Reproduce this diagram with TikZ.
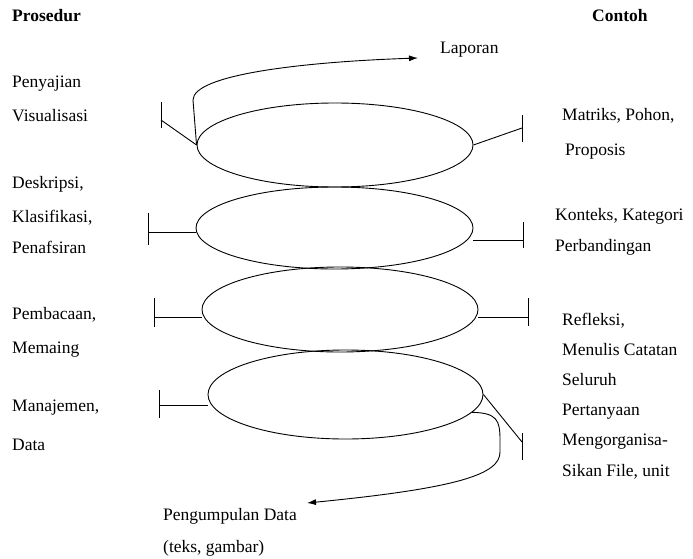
\documentclass[tikz,border=0pt]{standalone}
\usepackage{fontspec}
\setmainfont{Liberation Serif}
\usetikzlibrary{shapes.geometric,arrows.meta}
\tikzset{
  lbl/.style={anchor=base west,inner sep=0pt,font=\fontsize{17.5}{21}\selectfont},
  hdr/.style={lbl,font=\fontsize{17.5}{21}\selectfont\bfseries},
  oval/.style={ellipse,draw,line width=0.9pt,inner sep=0pt},
  ln/.style={line width=0.9pt},
  arr/.style={line width=0.9pt,-{Latex[length=9pt,width=6pt]}}
}
\begin{document}
\begin{tikzpicture}[x=1pt,y=-1pt]
\useasboundingbox (0,0) rectangle (693,559);
% ellipses
\node[oval,minimum width=276pt,minimum height=84pt] (e1) at (335,145) {};
\node[oval,minimum width=277pt,minimum height=82pt] (e2) at (334.5,228) {};
\node[oval,minimum width=276pt,minimum height=85pt] (e3) at (340,309.5) {};
\node[oval,minimum width=275pt,minimum height=89pt] (e4) at (345.5,394.5) {};
% T-bar coordinates
\coordinate (a1) at (161,120); \coordinate (b1) at (522,128);
\coordinate (a2) at (148,232); \coordinate (b2) at (523,240);
\coordinate (a3) at (154,317); \coordinate (b3) at (528,317);
\coordinate (a4) at (159,405); \coordinate (b4) at (522,442);
% ellipse 1
\draw[ln] (e1.west) -- (a1);
\draw[ln] (161,102) -- (161,128);
\draw[ln] (e1.east) -- (b1);
\draw[ln] (522,115) -- (522,142);
% ellipse 2
\draw[ln] (e2.west |- a2) -- (a2);
\draw[ln] (148,213) -- (148,245);
\draw[ln] (e2.east |- b2) -- (b2);
\draw[ln] (523,222) -- (523,248);
% ellipse 3
\draw[ln] (e3.west |- a3) -- (a3);
\draw[ln] (154,298) -- (154,327);
\draw[ln] (e3.east |- b3) -- (b3);
\draw[ln] (528,298) -- (528,326);
% ellipse 4
\draw[ln] (e4.west |- a4) -- (a4);
\draw[ln] (159,390) -- (159,418);
\draw[ln] (e4.east) -- (b4);
\draw[ln] (522,433) -- (522,460);
% headers
\node[hdr] (hp) at (12,22) {Prosedur};
\node[hdr] (hc) at (592,22) {Contoh};
% left labels
\node[lbl] (l1) at (12,88) {Penyajian};
\node[lbl] (l2) at (12,122) {Visualisasi};
\node[lbl] (l3) at (12,188) {Deskripsi,};
\node[lbl] (l4) at (12,222) {Klasifikasi,};
\node[lbl] (l5) at (12,253) {Penafsiran};
\node[lbl] (l6) at (12,319) {Pembacaan,};
\node[lbl] (l7) at (12,353) {Memaing};
\node[lbl] (l8) at (12,411) {Manajemen,};
\node[lbl] (l9) at (12,450) {Data};
% right labels
\node[lbl] (r1) at (562,121) {Matriks, Pohon,};
\node[lbl] (r2) at (565,155) {Proposis};
\node[lbl] (r3) at (555,220) {Konteks, Kategori};
\node[lbl] (r4) at (555,251) {Perbandingan};
\node[lbl] (r5) at (562,325) {Refleksi,};
\node[lbl] (r6) at (562,355) {Menulis Catatan};
\node[lbl] (r7) at (562,385) {Seluruh};
\node[lbl] (r8) at (562,415) {Pertanyaan};
\node[lbl] (r9) at (562,445) {Mengorganisa-};
\node[lbl] (r10) at (562,476) {Sikan File, unit};
% top / bottom labels
\node[lbl] (lap) at (440,54) {Laporan};
\node[lbl] (pd1) at (163,520) {Pengumpulan Data};
\node[lbl] (pd2) at (163,552) {(teks, gambar)};
% curved arrows
\coordinate (lapTip) at (418,58);
\draw[arr] (e1.west) -- (193,100) .. controls (193,75) and (300,62) .. (lapTip);
\coordinate (pdTip) at (307,503);
\draw[arr] (e4.-8) .. controls (497,413) and (500,420) .. (500,440) -- (500,452) .. controls (500,474) and (460,488) .. (pdTip);
\end{tikzpicture}
\end{document}
